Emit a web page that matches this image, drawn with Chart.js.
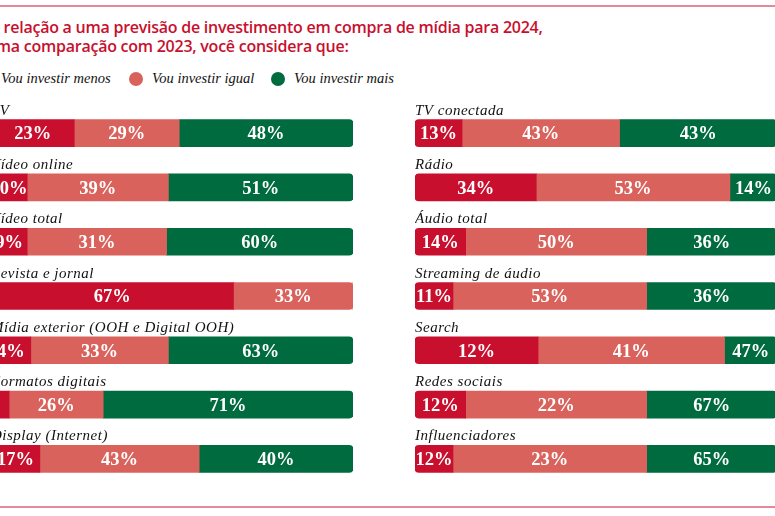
<!DOCTYPE html>
<html lang="pt-BR">
<head>
<meta charset="utf-8">
<script src="https://cdn.jsdelivr.net/npm/chart.js@4.4.0/dist/chart.umd.min.js"></script>
<style>
    body { margin: 0; width: 775px; height: 516px; overflow: hidden; background: #fff; position: relative; }
    .linha { position: absolute; left: 0; width: 775px; background: #e4899b; }
    #titulo { position: absolute; left: -24px; top: 18px; font-family: "Open Sans", sans-serif; font-weight: 600;
              font-size: 16px; letter-spacing: -0.25px; line-height: 19px; color: #c8102e; white-space: nowrap; }
    .leg { position: absolute; top: 72px; height: 18px; font-family: "Liberation Serif", serif; font-style: italic;
           font-size: 14.5px; letter-spacing: 0px; color: #111; white-space: nowrap; }
    .leg span { position: absolute; top: 0px; width: 14px; height: 14px; border-radius: 50%; }
    .caixa { position: absolute; top: 92px; width: 362px; height: 394px; }
</style>
</head>
<body>
<div class="linha" style="top:5px;height:2px"></div>
<div class="linha" style="top:506px;height:1.5px"></div>

<div id="titulo">Em relação a uma previsão de investimento em compra de mídia para 2024,<br>numa comparação com 2023, você considera que:</div>
<div id="legenda"></div>

<div class="caixa" style="left:-9px"><canvas id="graficoEsq"></canvas></div>
<div class="caixa" style="left:415px"><canvas id="graficoDir"></canvas></div>

<script>
// series
var series = ["Vou investir menos", "Vou investir igual", "Vou investir mais"];
var cores = ["#c8102e", "#d9635c", "#006b3f"];

// painel esquerdo
var catEsq = ["TV", "Vídeo online", "Vídeo total", "Revista e jornal", "Mídia exterior (OOH e Digital OOH)", "Formatos digitais", "Display (Internet)"];
// comprimento das barras como desenhadas (%)
var menosEsq = [23, 10, 10, 67, 11, 5, 13.5];
var igualEsq = [29, 39, 38.5, 33, 38, 26, 44];
var maisEsq  = [48, 51, 51.5, 0, 51, 69, 42.5];
// percentuais impressos
var txtMenosEsq = ["23%", "10%", "9%", "67%", "4%", "", "17%"];
var txtIgualEsq = ["29%", "39%", "31%", "33%", "33%", "26%", "43%"];
var txtMaisEsq  = ["48%", "51%", "60%", "", "63%", "71%", "40%"];

// painel direito
var catDir = ["TV conectada", "Rádio", "Áudio total", "Streaming de áudio", "Search", "Redes sociais", "Influenciadores"];
var menosDir = [13, 33.5, 14, 10.5, 34, 14, 10.5];
var igualDir = [43.5, 53.5, 50, 53.5, 51.5, 50, 53.5];
var maisDir  = [43.5, 13, 36, 36, 14.5, 36, 36];
var txtMenosDir = ["13%", "34%", "14%", "11%", "12%", "12%", "12%"];
var txtIgualDir = ["43%", "53%", "50%", "53%", "41%", "22%", "23%"];
var txtMaisDir  = ["43%", "14%", "36%", "36%", "47%", "67%", "65%"];

// legenda
var posLegenda = [-15, 136, 278];
var contLeg = document.getElementById("legenda");
for (var i = 0; i < series.length; i++) {
    var item = document.createElement("div");
    item.className = "leg";
    item.style.left = (posLegenda[i] - 7) + "px";
    item.innerHTML = '<span style="left:0;background:' + cores[i] + '"></span>' +
        '<b style="font-weight:normal;position:absolute;left:23px;top:-2px">' + series[i] + '</b>';
    contLeg.appendChild(item);
}

var rotulosPlugin = {
    id: "rotulos",
    afterDatasetsDraw: function (chart) {
        var ctx = chart.ctx;
        var textos = chart.options.plugins.rotulos.textos;
        ctx.save();
        ctx.fillStyle = "#fff";
        ctx.font = "bold 18.5px 'Liberation Serif'";
        ctx.textAlign = "center";
        ctx.textBaseline = "middle";
        chart.data.datasets.forEach(function (ds, d) {
            chart.getDatasetMeta(d).data.forEach(function (el, i) {
                var t = textos[d][i];
                if (!t || !ds.data[i]) return;
                ctx.fillText(t, (el.x + el.base) / 2, el.y + 1.5);
            });
        });
        // nome da categoria acima de cada barra
        ctx.fillStyle = "#111";
        ctx.font = "italic 15px 'Liberation Serif'";
        ctx.letterSpacing = "0.5px";
        ctx.textAlign = "left";
        ctx.textBaseline = "alphabetic";
        var y = chart.scales.y;
        chart.data.labels.forEach(function (lab, i) {
            ctx.fillText(lab, chart.chartArea.left, y.getPixelForValue(i) - 13.5 - 5);
        });
        ctx.restore();
    }
};

function raio(ultimo) {
    return function (c) {
        if (c.datasetIndex === 0) return { topLeft: 4, bottomLeft: 4, topRight: 0, bottomRight: 0 };
        if (c.datasetIndex === ultimo(c.dataIndex)) return { topLeft: 0, bottomLeft: 0, topRight: 4, bottomRight: 4 };
        return 0;
    };
}

function montaGrafico(id, labels, menos, igual, mais, textos) {
    var ultimo = function (i) { return mais[i] > 0 ? 2 : 1; };
    var valores = [menos, igual, mais];
    var datasets = [];
    for (var s = 0; s < series.length; s++) {
        datasets.push({
            label: series[s],
            data: valores[s],
            backgroundColor: cores[s],
            borderWidth: 0,
            borderSkipped: false,
            borderRadius: raio(ultimo),
            barThickness: 27
        });
    }
    return new Chart(document.getElementById(id), {
        type: "bar",
        data: { labels: labels, datasets: datasets },
        options: {
            indexAxis: "y",
            responsive: true,
            maintainAspectRatio: false,
            animation: false,
            layout: { padding: { top: 14, bottom: 0, left: 0, right: 0 } },
            scales: {
                x: { stacked: true, min: 0, max: 100, display: false },
                y: { stacked: true, display: false }
            },
            plugins: {
                legend: { display: false },
                tooltip: { enabled: false },
                rotulos: { textos: textos }
            }
        },
        plugins: [rotulosPlugin]
    });
}

montaGrafico("graficoEsq", catEsq, menosEsq, igualEsq, maisEsq, [txtMenosEsq, txtIgualEsq, txtMaisEsq]);
montaGrafico("graficoDir", catDir, menosDir, igualDir, maisDir, [txtMenosDir, txtIgualDir, txtMaisDir]);
</script>
</body>
</html>
